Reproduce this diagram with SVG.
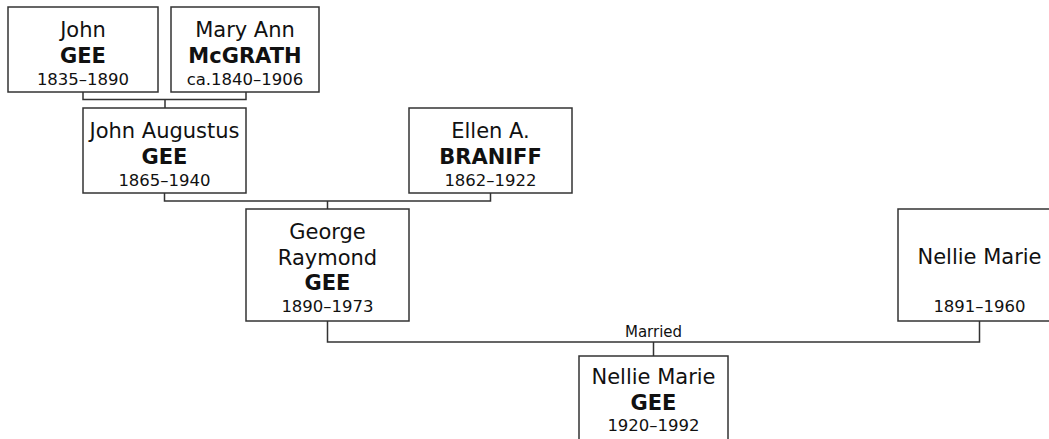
<svg xmlns="http://www.w3.org/2000/svg" width="1049" height="439" viewBox="0 0 1049 439">
<style>
.box{fill:#fff;stroke:#333;stroke-width:1.5}
.ln{fill:none;stroke:#333;stroke-width:1.5}
text{font-family:"DejaVu Sans",Verdana,sans-serif;fill:#111;text-anchor:middle}
.nm{font-size:21px}
.sn{font-size:21px;font-weight:bold}
.dt{font-size:16.5px}
.lbl{font-size:15px}
</style>
<rect width="1049" height="439" fill="#fff"/>
<g id="connectors">
<path class="ln" d="M83 92V99.5H246V92M165 99.5V108"/>
<path class="ln" d="M164.5 193V201H490.5V193M327.5 201V209"/>
<path class="ln" d="M327.5 321V342H979.5V321M653.5 342V356"/>
<text class="lbl" x="653.5" y="337">Married</text>
</g>
<g id="john-gee">
<rect class="box" x="8" y="7" width="150" height="85"/>
<text class="nm" x="83" y="36.5">John</text>
<text class="sn" x="83" y="62.5">GEE</text>
<text class="dt" x="83" y="85">1835–1890</text>
</g>
<g id="mary-ann-mcgrath">
<rect class="box" x="171" y="7" width="148" height="85"/>
<text class="nm" x="245" y="36.5">Mary Ann</text>
<text class="sn" x="245" y="62.5">McGRATH</text>
<text class="dt" x="245" y="85">ca.1840–1906</text>
</g>
<g id="john-augustus-gee">
<rect class="box" x="83" y="108" width="163" height="85"/>
<text class="nm" x="164.5" y="137.5">John Augustus</text>
<text class="sn" x="164.5" y="163.5">GEE</text>
<text class="dt" x="164.5" y="186">1865–1940</text>
</g>
<g id="ellen-braniff">
<rect class="box" x="409" y="108" width="163" height="85"/>
<text class="nm" x="490.5" y="137.5">Ellen A.</text>
<text class="sn" x="490.5" y="163.5">BRANIFF</text>
<text class="dt" x="490.5" y="186">1862–1922</text>
</g>
<g id="george-raymond-gee">
<rect class="box" x="246" y="209" width="163" height="112"/>
<text class="nm" x="327.5" y="238.5">George</text>
<text class="nm" x="327.5" y="264.5">Raymond</text>
<text class="sn" x="327.5" y="289.5">GEE</text>
<text class="dt" x="327.5" y="311.5">1890–1973</text>
</g>
<g id="nellie-marie">
<rect class="box" x="898" y="209" width="163" height="112"/>
<text class="nm" x="979.5" y="263.5">Nellie Marie</text>
<text class="dt" x="979.5" y="311.5">1891–1960</text>
</g>
<g id="nellie-marie-gee">
<rect class="box" x="579" y="356" width="149" height="100"/>
<text class="nm" x="653.5" y="384">Nellie Marie</text>
<text class="sn" x="653.5" y="410">GEE</text>
<text class="dt" x="653.5" y="431">1920–1992</text>
</g>
</svg>
